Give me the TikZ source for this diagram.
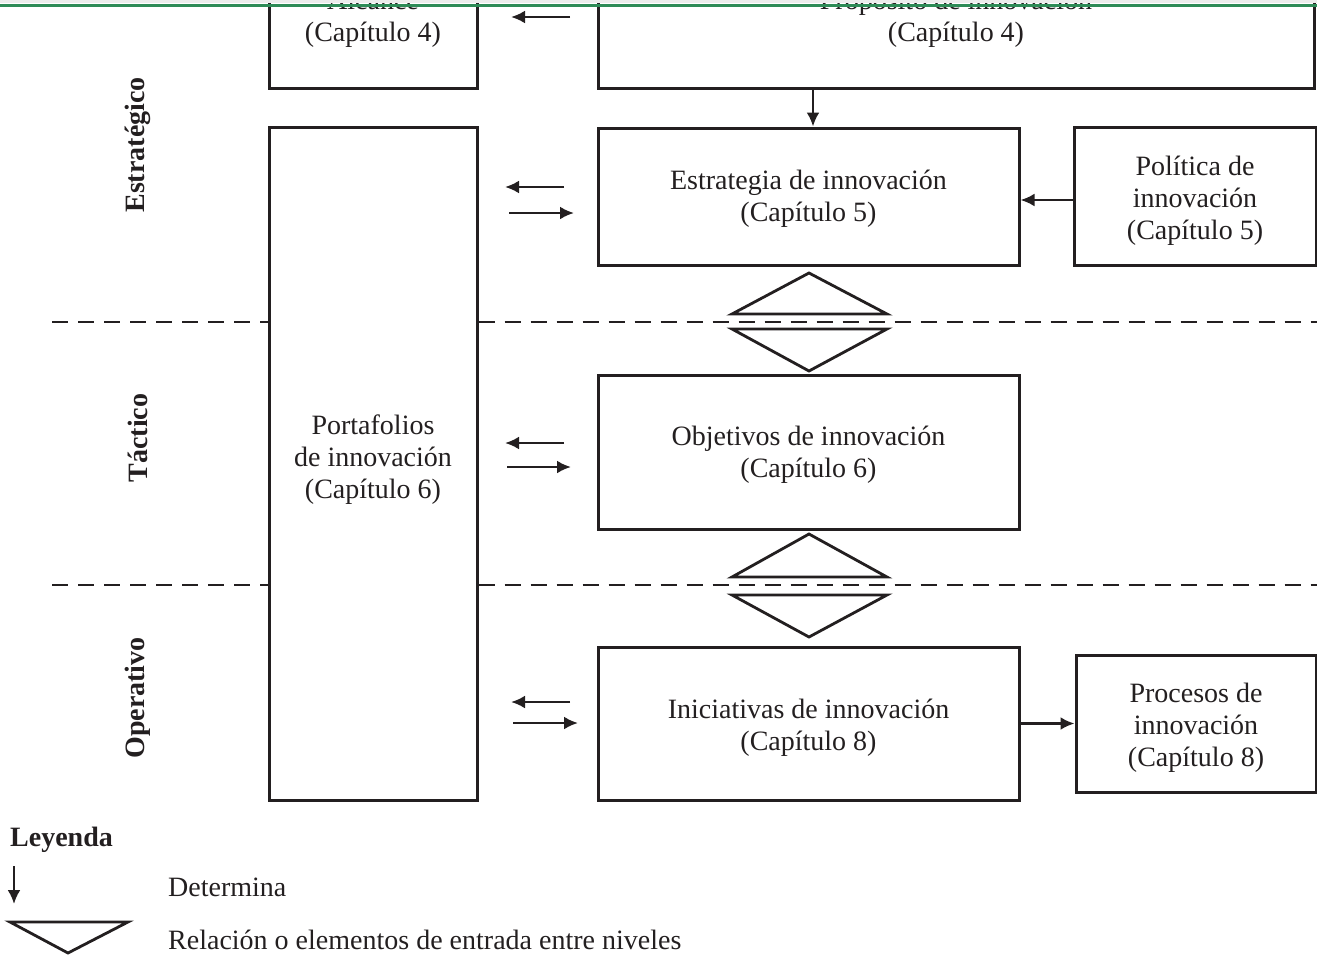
\documentclass[tikz,border=0pt]{standalone}
\usepackage{fontspec}
\setmainfont{Liberation Serif}
\usetikzlibrary{arrows.meta,calc}
\definecolor{ink}{RGB}{35,31,32}
\definecolor{topgreen}{RGB}{46,139,87}
\begin{document}
\begin{tikzpicture}[x=1pt,y=-1pt,
  font=\fontsize{28}{32}\selectfont,
  box/.style={draw=ink, line width=3pt, rectangle, inner sep=0pt},
  txt/.style={align=center, text=ink, inner sep=0pt},
  arr/.style={draw=ink, line width=2.6pt, -{Latex[length=14pt,width=13pt]}},
  dashline/.style={draw=ink, line width=2.8pt, dash pattern=on 16pt off 10pt},
  tri/.style={draw=ink, line width=2.8pt, fill=white, line join=miter},
  level/.style={rotate=90, font=\fontsize{28}{32}\selectfont\bfseries, text=ink, inner sep=0pt}]
\useasboundingbox (0,0) rectangle (1317,956);
\clip (0,0) rectangle (1317,956);

% boxes
\node[box, minimum width=208pt, minimum height=148pt] (alc) at (373,14) {};
\node[box, minimum width=716pt, minimum height=148pt] (prop) at (956,14) {};
\node[box, minimum width=208pt, minimum height=673pt] (port) at (373,463.5) {};
\node[box, minimum width=421pt, minimum height=137pt] (est) at (808.5,196.5) {};
\node[box, minimum width=242pt, minimum height=138pt] (pol) at (1195,196) {};
\node[box, minimum width=421pt, minimum height=154pt] (obj) at (808.5,452) {};
\node[box, minimum width=421pt, minimum height=153pt] (ini) at (808.5,723.5) {};
\node[box, minimum width=240pt, minimum height=137pt] (proc) at (1196,723.5) {};

% box texts
\node[txt] (alcT) at (373,18.5) {Alcance\\(Capítulo 4)};
\node[txt] (propT) at (956,18.5) {Propósito de innovación\\(Capítulo 4)};
\node[txt] (portT) at (373,459.5) {Portafolios\\de innovación\\(Capítulo 6)};
\node[txt] (estT) at (808.5,199) {Estrategia de innovación\\(Capítulo 5)};
\node[txt] (polT) at (1195,200.5) {Política de\\innovación\\(Capítulo 5)};
\node[txt] (objT) at (808.5,455) {Objetivos de innovación\\(Capítulo 6)};
\node[txt] (iniT) at (808.5,728) {Iniciativas de innovación\\(Capítulo 8)};
\node[txt] (procT) at (1196,728) {Procesos de\\innovación\\(Capítulo 8)};

% top band
\fill[gray!15] (0,0) rectangle (1317,3);
\draw[topgreen, line width=3pt] (0,5) -- (1317,5);

% connectors between boxes
\coordinate (x813) at (813,0);
\draw[arr] (prop.south -| x813) -- (est.north -| x813);
\coordinate (y200) at (0,200);
\draw[arr] (pol.west |- y200) -- (est.east |- y200);
\draw[arr] (ini.east) -- (ini.east -| proc.west);

% paired arrows
\coordinate (a1s) at (570,17); \coordinate (a1e) at (511,17);
\draw[arr] (a1s) -- (a1e);
\coordinate (b1s) at (564,187); \coordinate (b1e) at (505,187);
\coordinate (b2s) at (509,213); \coordinate (b2e) at (574,213);
\draw[arr] (b1s) -- (b1e);
\draw[arr] (b2s) -- (b2e);
\coordinate (c1s) at (564,443); \coordinate (c1e) at (505,443);
\coordinate (c2s) at (507,467); \coordinate (c2e) at (571,467);
\draw[arr] (c1s) -- (c1e);
\draw[arr] (c2s) -- (c2e);
\coordinate (d1s) at (570,702); \coordinate (d1e) at (511,702);
\coordinate (d2s) at (513,723); \coordinate (d2e) at (578,723);
\draw[arr] (d1s) -- (d1e);
\draw[arr] (d2s) -- (d2e);

% dashed level lines
\draw[dashline] (52,322) -- (port.west |- 0,322);
\draw[dashline] (port.east |- 0,322) -- (1317,322);
\draw[dashline] (52,585) -- (port.west |- 0,585);
\draw[dashline] (port.east |- 0,585) -- (1317,585);

% level relation triangles
\draw[tri] (732,314) -- (809,273) -- (887,314) -- cycle;
\draw[tri] (732,329) -- (887,329) -- (809,371) -- cycle;
\draw[tri] (732,577) -- (809,534) -- (887,577) -- cycle;
\draw[tri] (732,595) -- (887,595) -- (809,637) -- cycle;

% level labels
\node[level] (lvE) at (138,145) {Estratégico};
\node[level] (lvT) at (138,438) {Táctico};
\node[level] (lvO) at (138,698) {Operativo};

% legend
\node[txt, anchor=west, font=\fontsize{28}{32}\selectfont\bfseries] (ley) at (10,840) {Leyenda};
\coordinate (lg1) at (14,866); \coordinate (lg2) at (14,904);
\draw[arr] (lg1) -- (lg2);
\node[txt, anchor=west] (ldet) at (168,887) {Determina};
\draw[tri] (10,922) -- (128,922) -- (68,953) -- cycle;
\node[txt, anchor=west] (lrel) at (168,940) {Relación o elementos de entrada entre niveles};
\end{tikzpicture}
\end{document}
